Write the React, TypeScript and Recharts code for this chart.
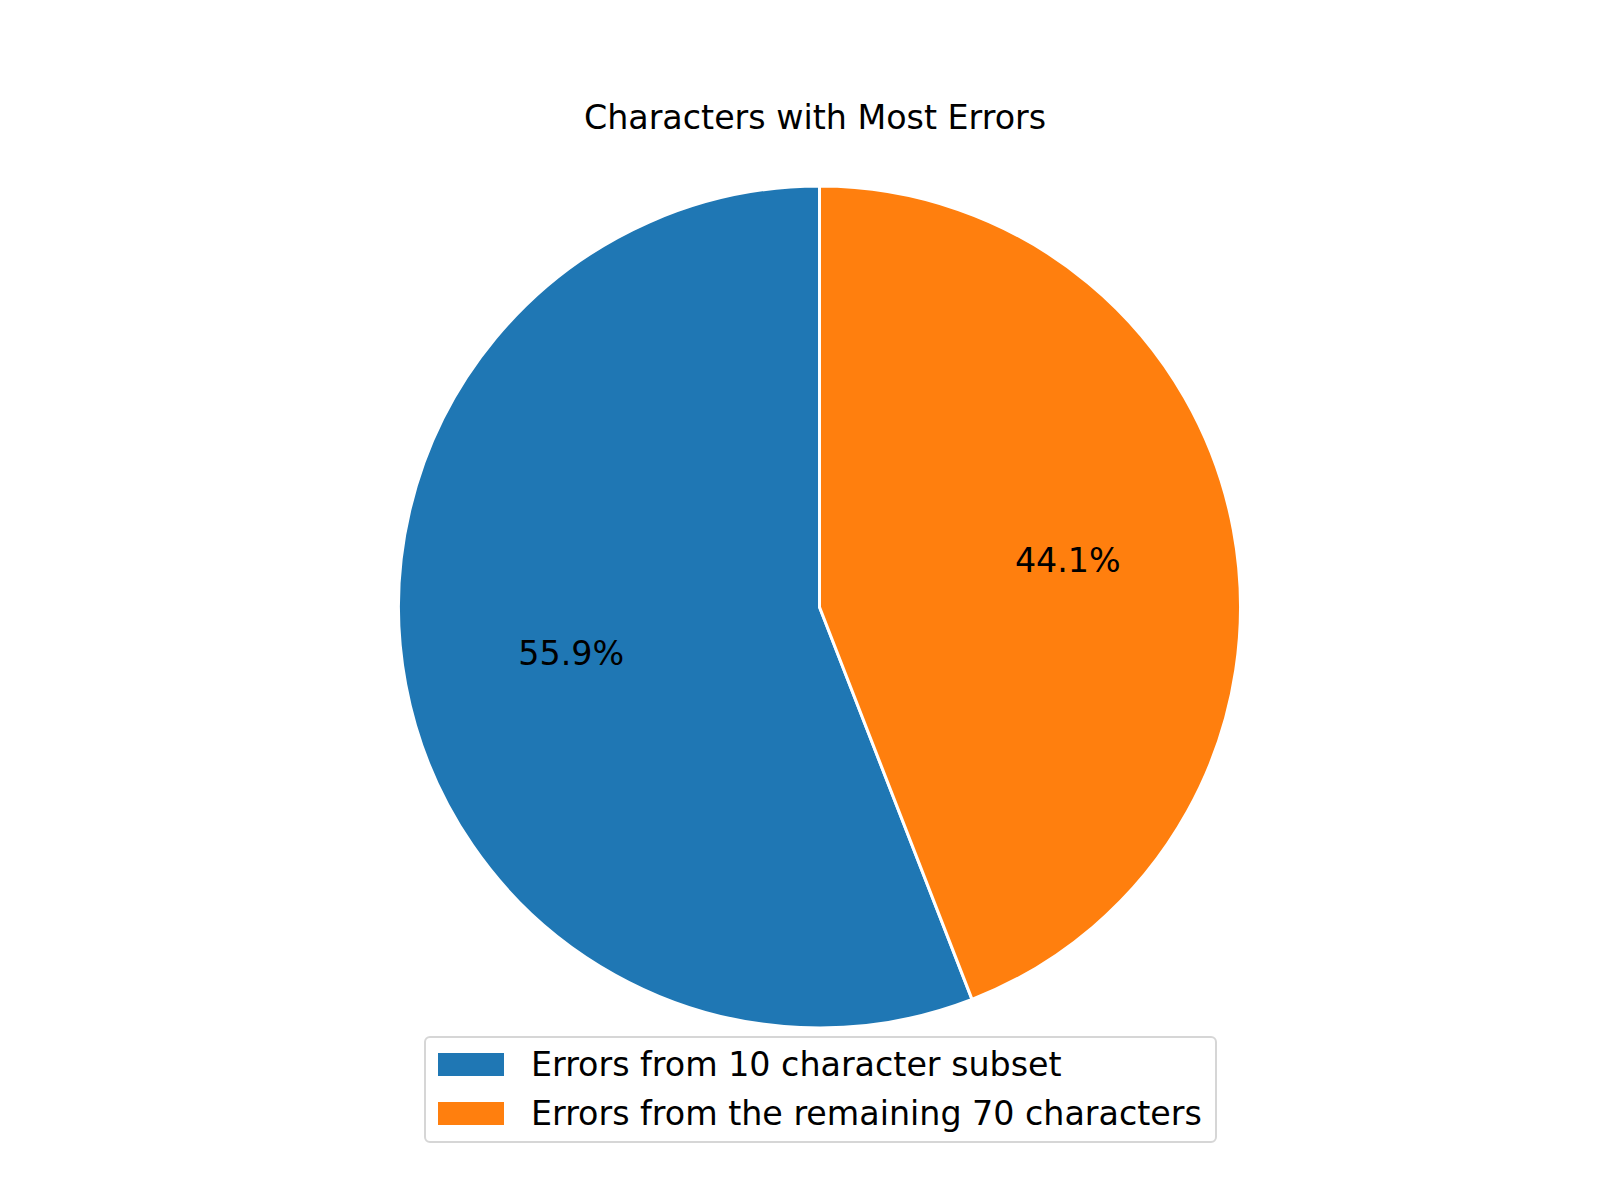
import React from 'react';
import { PieChart, Pie, Cell, Legend } from 'recharts';

const categories = ['Errors from 10 character subset', 'Errors from the remaining 70 characters'];
const shares = [55.9, 44.1];
const colors = ['#1f77b4', '#ff7f0e'];

const data = categories.map((name, i) => ({ name, value: shares[i] }));

const FONT = '"DejaVu Sans", sans-serif';
const FS = 33.3;
const RAD = Math.PI / 180;

// matplotlib puts autopct labels at 0.6 of the radius
const renderLabel = (props: any) => {
  const { cx, cy, midAngle, outerRadius, percent } = props;
  const r = outerRadius * 0.6;
  const x = cx + r * Math.cos(-midAngle * RAD);
  const y = cy + r * Math.sin(-midAngle * RAD);
  return (
    <text
      x={x}
      y={y}
      fill="#000"
      textAnchor="middle"
      dominantBaseline="central"
      fontFamily={FONT}
      fontSize={FS}
    >
      {`${(percent * 100).toFixed(1)}%`}
    </text>
  );
};

const LegendBox = () => (
  <div
    style={{
      boxSizing: 'border-box',
      width: 793,
      height: 107,
      border: '2px solid #d6d6d6',
      borderRadius: 6,
      background: '#fff',
      fontFamily: FONT,
      fontSize: FS,
      color: '#000',
      padding: '2px 0 0 12px',
    }}
  >
    {categories.map((c, i) => (
      <div key={c} style={{ display: 'flex', alignItems: 'center', height: 49 }}>
        <span
          style={{ display: 'inline-block', width: 66, height: 23, background: colors[i], marginRight: 27 }}
        />
        <span style={{ whiteSpace: 'nowrap' }}>{c}</span>
      </div>
    ))}
  </div>
);

export default function App() {
  return (
    <div style={{ position: 'absolute', left: 0, top: 0, width: 1600, height: 1200, background: '#fff' }}>
      <div
        style={{
          position: 'absolute',
          left: 0,
          width: 1600,
          top: 98,
          textAlign: 'center',
          fontFamily: FONT,
          fontSize: FS,
          color: '#000',
          paddingLeft: 30,
          boxSizing: 'border-box',
        }}
      >
        Characters with Most Errors
      </div>
      <PieChart width={1600} height={1200} margin={{ top: 0, right: 0, bottom: 0, left: 0 }}>
        <Pie
          data={data}
          dataKey="value"
          nameKey="name"
          cx={819.5}
          cy={607}
          outerRadius={421}
          startAngle={90}
          endAngle={450}
          stroke="#ffffff"
          strokeWidth={3}
          label={renderLabel}
          labelLine={false}
          isAnimationActive={false}
        >
          {data.map((d, i) => (
            <Cell key={d.name} fill={colors[i]} />
          ))}
        </Pie>
        <Legend
          content={<LegendBox />}
          wrapperStyle={{ position: 'absolute', left: 424, top: 1036, width: 793, height: 107 }}
        />
      </PieChart>
    </div>
  );
}
